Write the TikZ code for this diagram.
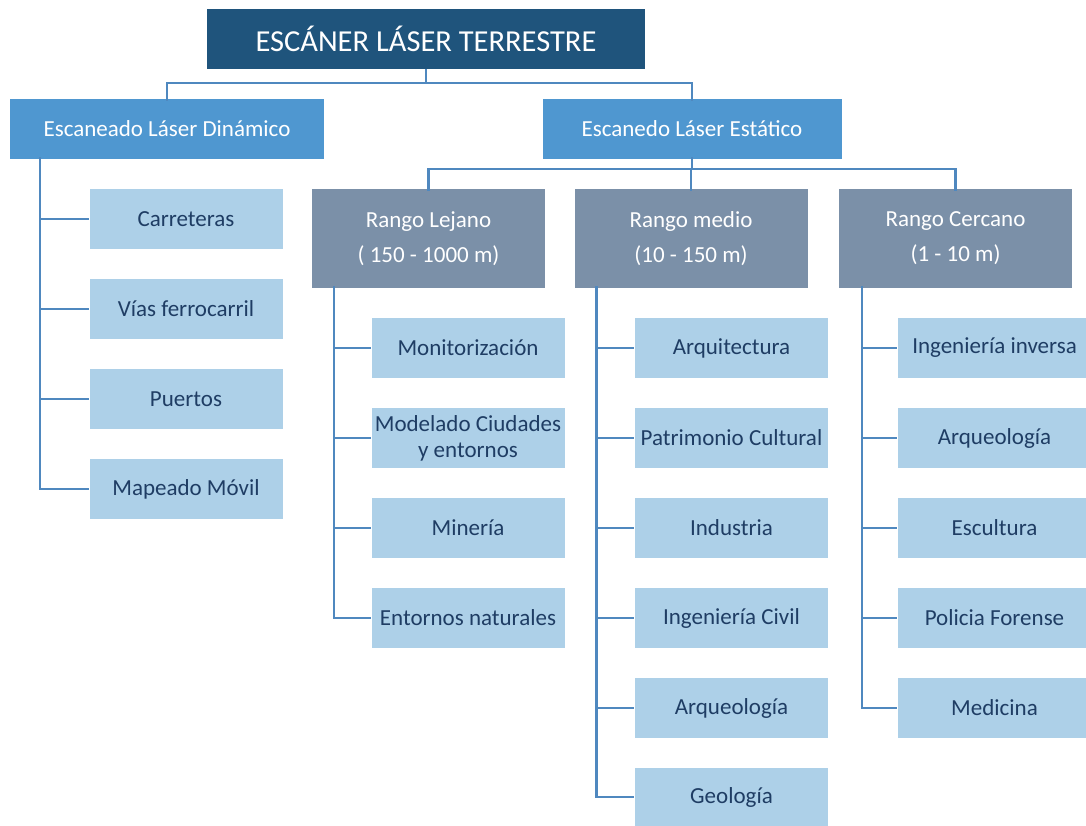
\documentclass[tikz,border=0pt]{standalone}
\usepackage{fontspec}
\setmainfont{Carlito}
\usetikzlibrary{positioning}
\definecolor{topblue}{HTML}{1F547C}
\definecolor{midblue}{HTML}{4F97D0}
\definecolor{rangegray}{HTML}{7B90A8}
\definecolor{leafblue}{HTML}{ADD0E8}
\definecolor{leaftext}{HTML}{1F3D64}
\definecolor{linkblue}{HTML}{4F88BF}
\tikzset{
  box/.style={rectangle, inner sep=0pt, outer sep=0pt, align=center},
  rootbox/.style={box, fill=topblue, text=white, minimum width=438, minimum height=60,
    font=\fontsize{30.5}{34}\selectfont},
  kindbox/.style={box, fill=midblue, text=white, minimum height=60,
    font=\fontsize{23}{27}\selectfont},
  rangebox/.style={box, fill=rangegray, text=white, minimum width=233, minimum height=99,
    font=\fontsize{23}{35}\selectfont},
  leaf/.style={box, fill=leafblue, text=leaftext, minimum width=193, minimum height=60,
    font=\fontsize{23}{26}\selectfont},
  link/.style={draw=linkblue, line width=2.6}
}
\begin{document}
\begin{tikzpicture}[x=1pt, y=-1pt]
\useasboundingbox (0,0) rectangle (1086,825);

% root and the two scanning kinds
\node[rootbox] (root) at (426,39) {ESCÁNER LÁSER TERRESTRE};
\node[kindbox, minimum width=314] (din) at (167,129) {Escaneado Láser Dinámico};
\node[kindbox, minimum width=299] (est) at (692,129) {Escanedo Láser Estático};

% range groups of static scanning
\node[rangebox] (lej) at (428.5,238.5) {Rango Lejano\\( 150 - 1000 m)};
\node[rangebox] (med) at (691,238.5) {Rango medio\\(10 - 150 m)};
\node[rangebox] (cer) at (955.5,238.5) {Rango Cercano\\(1 - 10 m)};

% dynamic scanning applications
\node[leaf] (d1) at (186,219) {Carreteras};
\node[leaf] (d2) at (186,309) {Vías ferrocarril};
\node[leaf] (d3) at (186,399) {Puertos};
\node[leaf] (d4) at (186,489) {Mapeado Móvil};

% long range applications
\node[leaf] (l1) at (468,348) {Monitorización};
\node[leaf] (l2) at (468,438) {Modelado Ciudades\\y entornos};
\node[leaf] (l3) at (468,528) {Minería};
\node[leaf] (l4) at (468,618) {Entornos naturales};

% medium range applications
\node[leaf] (m1) at (731.5,348) {Arquitectura};
\node[leaf] (m2) at (731.5,438) {Patrimonio Cultural};
\node[leaf] (m3) at (731.5,528) {Industria};
\node[leaf] (m4) at (731.5,618) {Ingeniería Civil};
\node[leaf] (m5) at (731.5,708) {Arqueología};
\node[leaf, minimum height=58] (m6) at (731.5,797) {Geología};

% close range applications
\node[leaf] (c1) at (994.5,348) {Ingeniería inversa};
\node[leaf] (c2) at (994.5,438) {Arqueología};
\node[leaf] (c3) at (994.5,528) {Escultura};
\node[leaf] (c4) at (994.5,618) {Policia Forense};
\node[leaf] (c5) at (994.5,708) {Medicina};

% connectors: root to kinds
\draw[link] (root.south) -- ++(0,14) -| ([yshift=-2]din.north);
\draw[link] (root.south) -- ++(0,14) -| ([yshift=-2]est.north);
% static kind to range groups
\draw[link] ([yshift=2]est.south) -- ++(0,12) -| ([yshift=-2]lej.north);
\draw[link] ([yshift=2]est.south) -- ++(0,12) -| ([yshift=-2]med.north);
\draw[link] ([yshift=2]est.south) -- ++(0,12) -| ([yshift=-2]cer.north);

% trunks to the applications
\foreach \c in {d1,d2,d3,d4}
  \draw[link] ([xshift=30,yshift=2]din.south west) |- ([xshift=-1]\c.west);
\foreach \c in {l1,l2,l3,l4}
  \draw[link] ([xshift=22,yshift=2]lej.south west) |- ([xshift=-1]\c.west);
\foreach \c in {m1,m2,m3,m4,m5,m6}
  \draw[link] ([xshift=22,yshift=2]med.south west) |- ([xshift=-1]\c.west);
\foreach \c in {c1,c2,c3,c4,c5}
  \draw[link] ([xshift=23,yshift=2]cer.south west) |- ([xshift=-1]\c.west);
\end{tikzpicture}
\end{document}
